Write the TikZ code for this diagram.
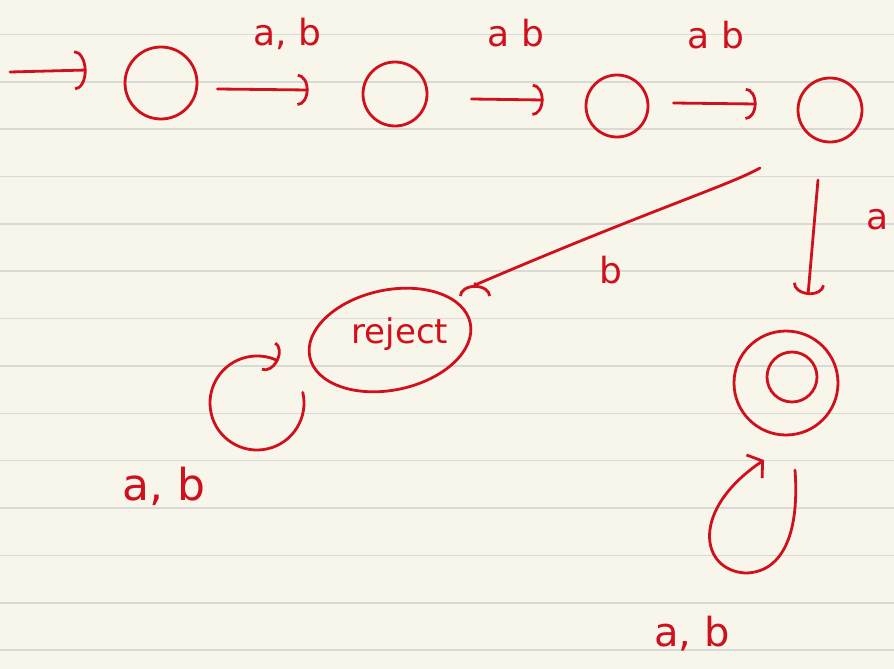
\documentclass[tikz,border=0pt]{standalone}
\usepackage{fontspec}
\setmainfont{DejaVu Sans}
\usetikzlibrary{arrows.meta,shapes.geometric,calc}
\definecolor{paper}{HTML}{F8F6EA}
\definecolor{rule}{HTML}{D9D9D6}
\definecolor{ink}{HTML}{D0101C}
\tikzset{
  ink/.style={draw=ink, line width=2.8pt, line cap=round, line join=round},
  stnode/.style={ink, circle, inner sep=0pt},
  arr/.style={ink, -{Arc Barb[length=11pt,width=32pt,line width=2.8pt]}},
  lbl/.style={text=ink, font=\fontsize{36}{36}\selectfont, inner sep=0pt}
}
\begin{document}
\begin{tikzpicture}[x=1pt,y=-1pt]
\useasboundingbox (0,0) rectangle (894,669);
\clip (0,0) rectangle (894,669);
\fill[paper] (0,0) rectangle (894,669);
\foreach \k in {0,...,13}{
  \draw[rule, line width=1.6pt] (0,34.5+47.35*\k) -- (894,34.5+47.35*\k);
}
% states
\node[stnode, minimum size=72pt] (q0) at (161,83) {};
\node[stnode, minimum size=64pt] (q1) at (395,94) {};
\node[stnode, minimum size=62pt] (q2) at (617,106) {};
\node[stnode, minimum size=64pt] (q3) at (830,110) {};
\node[ink, ellipse, rotate=12, minimum width=164pt, minimum height=100pt, inner sep=0pt] (rej) at (390,340) {};
\node[lbl, font=\fontsize{34}{34}\selectfont] (rejt) at (400,334) {reject};
\node[stnode, minimum size=104pt] (acc) at (786,383) {};
\node[stnode, minimum size=50pt] (accin) at (792,377) {};
% start arrow
\coordinate (start) at (10,72);
\draw[arr, -{Arc Barb[length=12pt,width=40pt,line width=2.8pt]}] (start) -- ([shift={(-37,-13)}]q0.west);
% transitions
\draw[arr] ([shift={(19,6)}]q0.east) -- ([shift={(-53,-4)}]q1.west);
\draw[arr] ([shift={(43,5)}]q1.east) -- ([shift={(-41,-6)}]q2.west);
\draw[arr] ([shift={(24,-3)}]q2.east) -- ([shift={(-40,-6)}]q3.west);
\draw[arr] ([shift={(-70,58)}]q3.center) .. controls ([shift={(-100,75)}]q3.center) and ([shift={(-180,100)}]q3.center) .. ([shift={(-355,175)}]q3.center) -- ([shift={(85,-55)}]rej.center);
\draw[arr] ([shift={(-12,70)}]q3.center) -- ([shift={(22,-88)}]acc.center);
% self loops
\coordinate (rl) at (257,403);
\draw[arr] ([shift={(13:47pt)}]rl) arc[start angle=13, end angle=-297, radius=47pt];
\draw[ink, -{Straight Barb[length=10pt,width=28pt,line width=2.8pt]}] ([shift={(9,87)}]acc.center) .. controls ([shift={(14,155)}]acc.center) and ([shift={(-6,190)}]acc.center) .. ([shift={(-41,190)}]acc.center) .. controls ([shift={(-86,187)}]acc.center) and ([shift={(-96,127)}]acc.center) .. ([shift={(-22,77)}]acc.center);
% labels
\node[lbl] (l1) at (287,34) {a, b};
\node[lbl] (l2) at (516,33) {a b};
\node[lbl] (l3) at (716,35) {a b};
\node[lbl] (l4) at (611,270) {b};
\node[lbl] (l5) at (878,220) {a};
\node[lbl, font=\fontsize{44}{44}\selectfont] (l6) at (164,486) {a, b};
\node[lbl, font=\fontsize{40}{40}\selectfont] (l7) at (692,634) {a, b};
\end{tikzpicture}
\end{document}
